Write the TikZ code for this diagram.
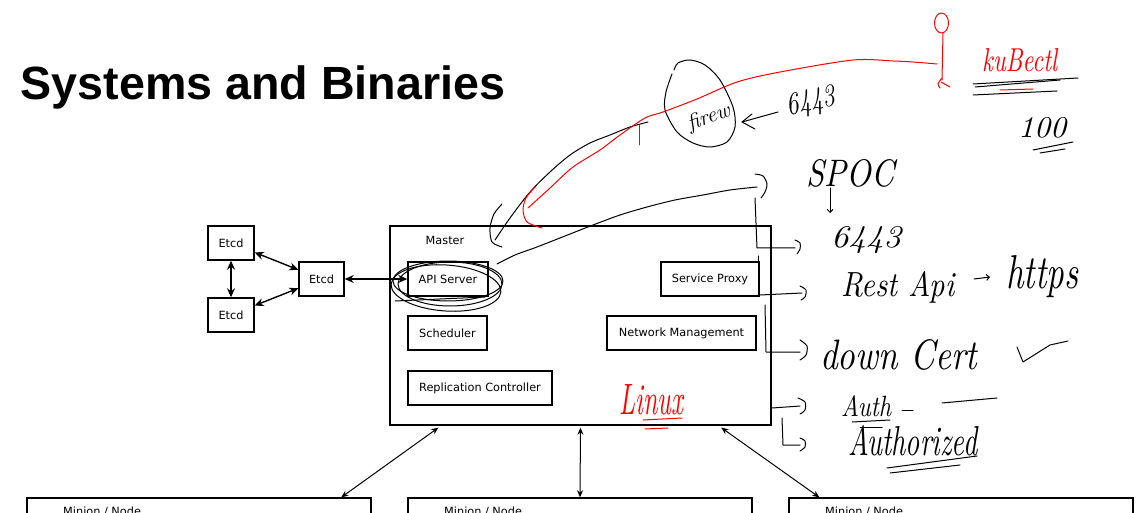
\documentclass[tikz,border=0pt]{standalone}
\usepackage{fontspec}
\usepackage{graphicx}
\usetikzlibrary{arrows.meta,calc}
\newfontfamily\titlefont{Liberation Sans}
\newfontfamily\boxfont{DejaVu Sans}
\newcommand{\hw}[2]{\resizebox{#1}{!}{\itshape #2}}
\newcommand{\hwb}[3]{\resizebox{#1}{#2}{\itshape #3}}
\begin{document}
\begin{tikzpicture}[x=1pt,y=-1pt,
  box/.style={draw,line width=1.4pt,inner sep=0pt,font=\boxfont\fontsize{11.3}{13}\selectfont},
  lbl/.style={inner sep=0pt,font=\boxfont\fontsize{11.3}{13}\selectfont},
  dbl/.style={{Stealth[length=9pt,width=8pt]}-{Stealth[length=9pt,width=8pt]},line width=1.4pt},
  thin/.style={{Stealth[length=7pt,width=6pt]}-{Stealth[length=7pt,width=6pt]},line width=1pt},
  ink/.style={line width=1pt,line cap=round,line join=round},
  redink/.style={ink,draw=red},
  hand/.style={inner sep=0pt},
  handb/.style={inner sep=0pt,anchor=base west}
]
\useasboundingbox (0,0) rectangle (1136,513);
\clip (0,0) rectangle (1136,513);

% title
\node[anchor=base west,inner sep=0pt,font=\titlefont\bfseries\fontsize{46.6}{50}\selectfont] (title) at (20.5,100) {Systems and Binaries};

% etcd cluster
\node[box,minimum width=46pt,minimum height=34pt] (etcdA) at (231,243) {Etcd};
\node[box,minimum width=46pt,minimum height=34pt] (etcdB) at (231,315) {Etcd};
\node[box,minimum width=45pt,minimum height=34pt] (etcdM) at (321.5,279) {Etcd};

% master
\node[draw,line width=1.4pt,minimum width=381pt,minimum height=199pt,inner sep=0pt] (master) at (580.5,325.5) {};
\node[lbl] (masterlbl) at (445,240) {Master};
\node[box,minimum width=80pt,minimum height=34pt] (api) at (448,279) {API Server};
\node[box,minimum width=79pt,minimum height=34pt] (sched) at (447.5,333) {Scheduler};
\node[box,minimum width=144pt,minimum height=34pt] (repl) at (480,388) {Replication Controller};
\node[box,minimum width=98pt,minimum height=34pt] (proxy) at (710,279) {Service Proxy};
\node[box,minimum width=149pt,minimum height=34pt] (netm) at (681.5,333) {Network Management};

% minions
\node[box,minimum width=344pt,minimum height=62pt] (m1) at (199,529) {};
\node[box,minimum width=344pt,minimum height=62pt] (m2) at (580,529) {};
\node[box,minimum width=344pt,minimum height=62pt] (m3) at (961,529) {};
\node[lbl,anchor=base west] (m1l) at (63,515) {Minion / Node};
\node[lbl,anchor=base west] (m2l) at (444,515) {Minion / Node};
\node[lbl,anchor=base west] (m3l) at (825,515) {Minion / Node};

% connectors
\draw[dbl] (etcdA) -- (etcdB);
\draw[dbl] (etcdA) -- (etcdM);
\draw[dbl] (etcdB) -- (etcdM);
\draw[dbl] (etcdM) -- (api);
\draw[thin] ([xshift=49pt,yshift=-2pt]master.south west) -- ([xshift=315pt]m1.north west);
\draw[thin] ([yshift=-2pt]master.south) -- (m2.north);
\draw[thin] ([xshift=332pt,yshift=-2pt]master.south west) -- ([xshift=31pt]m3.north west);

% ---- handwritten annotations ----
% loops around API server
\draw[ink] (448,281) ellipse [x radius=55pt, y radius=20pt];
\draw[ink,rotate around={-4:(446,288)}] (446,288) ellipse [x radius=55pt, y radius=23pt];
\draw[ink] (450,284) ellipse [x radius=52pt, y radius=22pt];
\draw[ink] (395,301) -- (485,297);

% line from API server to SPOC hook
\draw[ink] plot[smooth] coordinates {(497,264) (515,255) (537,247) (565,236) (593,225) (620,215) (647,207) (675,200) (703,195) (730,190) (757,187)};
\draw[ink] plot[smooth] coordinates {(755,174) (763,176) (767,184) (765,192) (761,198)};

% bracket and line up to firewall
\draw[ink] plot[smooth] coordinates {(502,204) (494,214) (490,228) (492,242) (502,247)};
\draw[ink] plot[smooth] coordinates {(495,240) (510,218) (530,192) (550,172) (570,155) (590,143) (610,135) (630,127) (648,122)};

% firewall egg
\draw[ink] plot[smooth] coordinates {(672,74) (666,92) (665,110) (677,132) (693,143) (710,147) (727,142) (735,127) (733,107) (720,80) (705,65) (690,60) (678,63) (674,70)};
\node[hand,rotate=20] (fw) at (709,118) {\hw{44pt}{firew}};
\draw[ink] (778,112) -- (742,122);
\draw[ink] (752,114) -- (742,122) -- (755,129);
\node[hand,rotate=12] (p1) at (811,103) {\hwb{50pt}{21pt}{6443}};

% red kubectl path
\draw[redink] plot[smooth] coordinates {(528,208) (550,188) (573,167) (600,150) (620,135) (645,118) (663,112) (697,99) (737,82) (780,72) (853,60) (893,61) (913,62) (937,64)};
\draw[redink] plot[smooth] coordinates {(535,187) (526,198) (523,210) (527,222) (542,228)};
\draw[redink] (639,125) -- (639,145);
\draw[redink] (941.5,23) ellipse [x radius=7pt, y radius=10pt];
\draw[redink] (943,33) -- (942,80);
\draw[redink] plot[smooth] coordinates {(942,78) (938,84) (940,88)};
\draw[redink] (941,82) -- (950,87);
\node[handb,text=red] (kub) at (982,72) {\hwb{75pt}{23pt}{kuBectl}};
\draw[ink] (973,84) -- (1078,78);
\draw[ink] (975,87) -- (1060,80);
\draw[ink] (973,95) -- (1057,91);
\draw[redink] (1000,90) -- (1033,89);
\node[handb] (hund) at (1018,138) {\hwb{48pt}{20pt}{100}};
\draw[ink] (1033,150) -- (1073,142);
\draw[ink] (1040,153) -- (1065,149);

% SPOC and list
\node[handb] (spoc) at (806,187) {\hwb{88pt}{27pt}{SPOC}};
\draw[ink,-{Straight Barb[length=3pt]}] (830,188) -- (830,213);
\node[handb] (p2) at (831,248) {\hwb{70pt}{21pt}{6443}};
\node[handb] (rest) at (841,297) {\hwb{113pt}{25pt}{Rest Api}};
\draw[ink,-{Straight Barb[length=3pt]}] (974,279) -- (990,277);
\node[handb] (https) at (1006,289) {\hwb{72pt}{33pt}{https}};
\node[handb] (cert) at (820,369) {\hwb{157pt}{30pt}{down Cert}};
\draw[ink] (1017,347) -- (1023,362) -- (1050,345) -- (1068,341);
\node[handb] (auth) at (841,416) {\hwb{50pt}{21pt}{Auth}};
\draw[ink] (852,422) -- (890,420);
\draw[ink] (860,427) -- (882,427);
\draw[ink] (902,410) -- (913,410);
\draw[ink] (942,403) -- (997,398);
\node[handb] (authz) at (848,455) {\hwb{129pt}{30pt}{Authorized}};
\draw[ink] (887,468) -- (977,456);
\draw[ink] (890,473) -- (960,465);

% right brackets
\draw[ink] (755,198) -- (757,248) -- (795,248);
\draw[ink] plot[smooth] coordinates {(795,240) (800,243) (800,249) (797,254)};
\draw[ink] (758,256) -- (758,296);
\draw[ink] (760,295) -- (802,293);
\draw[ink] plot[smooth] coordinates {(800,286) (806,290) (805,297) (801,300)};
\draw[ink] (765,305) -- (766,352) -- (800,352);
\draw[ink] plot[smooth] coordinates {(800,340) (807,346) (806,355) (800,360)};
\draw[ink] (772,408) -- (800,406);
\draw[ink] plot[smooth] coordinates {(798,398) (805,402) (805,410) (800,414)};
\draw[ink] (782,418) -- (783,445) -- (800,445);
\draw[ink] plot[smooth] coordinates {(800,438) (805,441) (805,447) (800,451)};

% Linux
\node[handb,text=red] (linux) at (619,414) {\hwb{64pt}{30pt}{Linux}};
\draw[redink] (643,420) -- (682,418);
\draw[redink] (645,429) -- (668,428);
\end{tikzpicture}
\end{document}
